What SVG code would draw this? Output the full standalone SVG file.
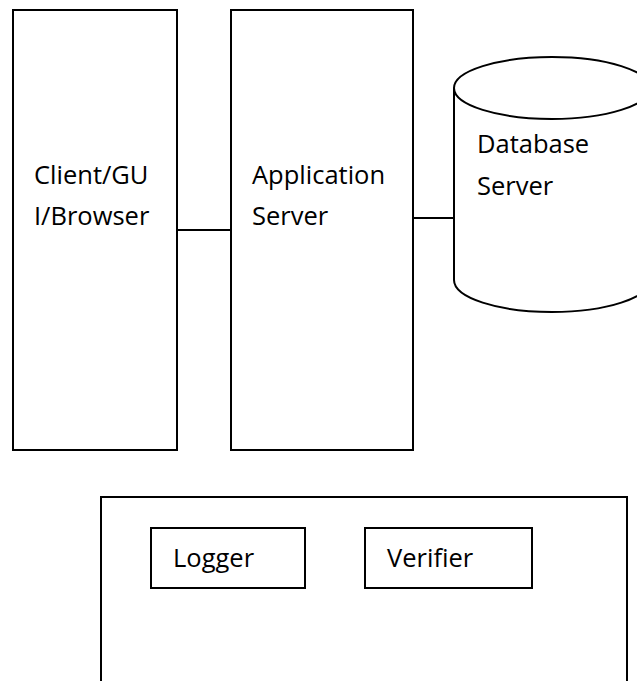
<svg xmlns="http://www.w3.org/2000/svg" width="637" height="681" viewBox="0 0 637 681">
<style>
.box{fill:#fff;stroke:#000;stroke-width:2}
.ln{fill:none;stroke:#000;stroke-width:2}
.t{font-family:"Open Sans","Liberation Sans",sans-serif;font-size:25.5px;fill:#000}
</style>
<rect width="637" height="681" fill="#fff"/>
<g id="connectors">
<line class="ln" x1="177" y1="230" x2="231" y2="230"/>
<line class="ln" x1="413" y1="218" x2="454" y2="218"/>
</g>
<g id="client">
<rect class="box" x="13" y="10" width="164" height="440"/>
<text class="t" x="34" y="184">Client/GU</text>
<text class="t" x="34" y="225">I/Browser</text>
</g>
<g id="appserver">
<rect class="box" x="231" y="10" width="182" height="440"/>
<text class="t" x="252" y="184">Application</text>
<text class="t" x="252" y="225">Server</text>
</g>
<g id="database">
<path class="box" d="M454,88 L454,280 A98,32 0 0 0 650,280 L650,88 A98,31 0 0 0 454,88 Z"/>
<path class="ln" d="M454,88 A98,31 0 0 0 650,88"/>
<text class="t" x="477" y="153">Database</text>
<text class="t" x="477" y="195">Server</text>
</g>
<g id="container">
<rect class="box" x="101" y="497" width="526" height="200"/>
</g>
<g id="logger">
<rect class="box" x="151" y="528" width="154" height="60"/>
<text class="t" x="173" y="567">Logger</text>
</g>
<g id="verifier">
<rect class="box" x="365" y="528" width="167" height="60"/>
<text class="t" x="387" y="567">Verifier</text>
</g>
</svg>
